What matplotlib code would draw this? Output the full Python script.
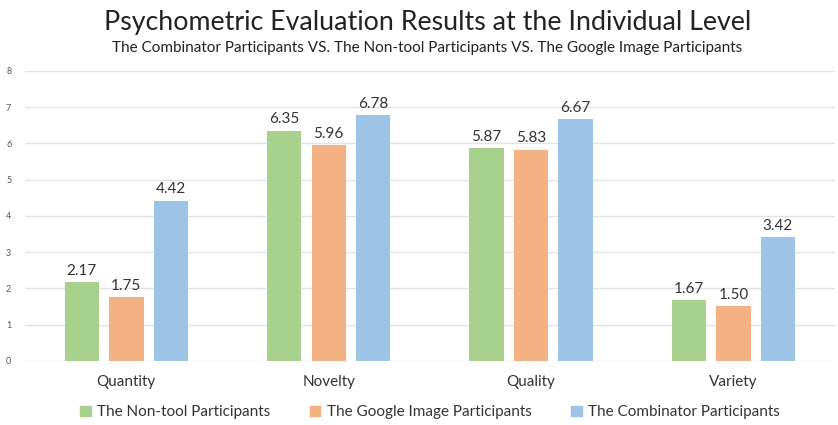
import numpy as np
from matplotlib import pyplot as plt
from matplotlib.patches import Patch

plt.rcParams['font.family'] = ['Lato', 'DejaVu Sans']

categories = ['Quantity', 'Novelty', 'Quality', 'Variety']
series_names = ['The Non-tool Participants', 'The Google Image Participants',
                'The Combinator Participants']
non_tool = [2.17, 6.35, 5.87, 1.67]
google = [1.75, 5.96, 5.83, 1.50]
combinator = [4.42, 6.78, 6.67, 3.42]
colors = ['#A9D18E', '#F4B183', '#9DC3E6']

fig = plt.figure(figsize=(8.38, 4.25), dpi=100)
ax = fig.add_axes([0.030, 0.151, 0.966, 0.682])

x = np.arange(len(categories))
w = 0.17
step = 0.22
for i, (vals, c) in enumerate(zip([non_tool, google, combinator], colors)):
    pos = x + (i - 1) * step
    bars = ax.bar(pos, vals, w, color=c, zorder=3)
    for b, v in zip(bars, vals):
        ax.text(b.get_x() + b.get_width() / 2, v + 0.12, '%.2f' % v,
                ha='center', va='bottom', fontsize=11, color='#333333')

ax.set_xlim(-0.5, 3.5)
ax.set_ylim(0, 8)
ax.set_yticks(range(0, 9))
ax.tick_params(axis='y', labelsize=6.5, colors='#555555', length=0, pad=10)
ax.set_xticks(x)
ax.set_xticklabels(categories, fontsize=11, color='#333333')
ax.tick_params(axis='x', length=0, pad=10)
ax.grid(axis='y', color='#e3e3e3', linewidth=1, zorder=0)
for s in ax.spines.values():
    s.set_visible(False)

fig.text(0.51, 0.948, 'Psychometric Evaluation Results at the Individual Level',
         ha='center', va='center', fontsize=19.3, color='#222222')
fig.text(0.51, 0.887, 'The Combinator Participants VS. The Non-tool Participants VS. The Google Image Participants',
         ha='center', va='center', fontsize=11, color='#222222')

handles = [Patch(color=c, label=n) for c, n in zip(colors, series_names)]
fig.legend(handles=handles, loc='center', bbox_to_anchor=(0.513, 0.03), ncol=3,
           frameon=False, fontsize=11, handlelength=0.7, handleheight=0.7,
           handletextpad=0.4, columnspacing=2.6, labelcolor='#333333')

fig.savefig('out.png', dpi=100)
